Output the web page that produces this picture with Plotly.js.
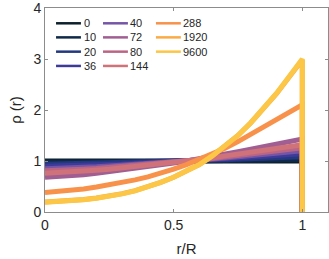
<!DOCTYPE html>
<html>
<head>
<meta charset="utf-8">
<script src="https://cdn.plot.ly/plotly-3.0.1.min.js"></script>
<style>html,body{margin:0;padding:0;background:#fff;}#chart{width:329px;height:259px;}</style>
</head>
<body>
<div id="chart"></div>
<script>
// r/R sample points (last point = wall drop at r/R = 1)
const r = [0, 0.05, 0.1, 0.15, 0.2, 0.25, 0.3, 0.35, 0.4, 0.45, 0.5, 0.55, 0.6, 0.65, 0.7, 0.75, 0.8, 0.85, 0.9, 0.95, 1.0, 1.0];
const labels = ["0", "10", "20", "36", "40", "72", "80", "144", "288", "1920", "9600"];
const colors = ["#0c1f2c", "#0f2a48", "#22387f", "#3d3a9a", "#7556a6", "#a05e92", "#bb6585", "#d0727a", "#f8914a", "#fbaa44", "#fcc646"];
const rho_0    = [1, 1, 1, 1, 1, 1, 1, 1, 1, 1, 1, 1, 1, 1, 1, 1, 1, 1, 1, 1, 1, 0];
const rho_10   = [0.975, 0.975, 0.975, 0.98, 0.98, 0.985, 0.985, 0.99, 0.99, 0.995, 0.995, 1.0, 1.0, 1.005, 1.01, 1.015, 1.02, 1.02, 1.025, 1.03, 1.035, 0];
const rho_20   = [0.935, 0.94, 0.94, 0.945, 0.95, 0.96, 0.965, 0.97, 0.98, 0.985, 0.99, 1.0, 1.01, 1.015, 1.025, 1.035, 1.045, 1.055, 1.065, 1.075, 1.085, 0];
const rho_36   = [0.895, 0.90, 0.905, 0.91, 0.92, 0.93, 0.94, 0.955, 0.965, 0.975, 0.985, 1.0, 1.015, 1.025, 1.045, 1.06, 1.075, 1.09, 1.11, 1.125, 1.14, 0];
const rho_40   = [0.85, 0.855, 0.865, 0.875, 0.885, 0.90, 0.915, 0.935, 0.95, 0.965, 0.98, 1.0, 1.02, 1.04, 1.06, 1.085, 1.11, 1.13, 1.155, 1.18, 1.20, 0];
const rho_72   = [0.68, 0.69, 0.71, 0.73, 0.76, 0.79, 0.82, 0.86, 0.89, 0.93, 0.96, 1.0, 1.04, 1.08, 1.13, 1.18, 1.23, 1.28, 1.33, 1.38, 1.43, 0];
const rho_80   = [0.81, 0.815, 0.825, 0.84, 0.855, 0.875, 0.89, 0.915, 0.935, 0.96, 0.975, 1.0, 1.025, 1.05, 1.08, 1.11, 1.14, 1.17, 1.20, 1.23, 1.26, 0];
const rho_144  = [0.76, 0.77, 0.78, 0.80, 0.82, 0.84, 0.865, 0.895, 0.92, 0.95, 0.97, 1.0, 1.03, 1.06, 1.10, 1.135, 1.17, 1.21, 1.25, 1.285, 1.32, 0];
const rho_288  = [0.38, 0.40, 0.42, 0.45, 0.49, 0.53, 0.575, 0.63, 0.69, 0.76, 0.84, 0.93, 1.03, 1.13, 1.25, 1.38, 1.52, 1.66, 1.81, 1.96, 2.10, 0];
const rho_1920 = [0.195, 0.205, 0.22, 0.245, 0.275, 0.315, 0.36, 0.42, 0.49, 0.58, 0.68, 0.795, 0.93, 1.10, 1.29, 1.50, 1.75, 2.02, 2.32, 2.65, 2.98, 0];
const rho_9600 = [0.19, 0.20, 0.215, 0.24, 0.27, 0.31, 0.355, 0.415, 0.49, 0.58, 0.68, 0.795, 0.93, 1.10, 1.29, 1.50, 1.75, 2.03, 2.33, 2.66, 3.00, 0];
const series = [rho_0, rho_10, rho_20, rho_36, rho_40, rho_72, rho_80, rho_144, rho_288, rho_1920, rho_9600];

const FONT = "Liberation Sans, Arial, sans-serif";
const traces = series.map((y, i) => ({
  x: r, y: y, type: "scatter", mode: "lines", name: labels[i],
  line: {color: colors[i], width: 5}, showlegend: false, hoverinfo: "skip"
}));

// legend built as layout shapes + annotations (3 columns, column-major)
const shapes = [], annotations = [];
const colX = [0.039, 0.205, 0.392];
const rowY = [0.925, 0.856, 0.786, 0.716];
const lineLen = 0.088;
labels.forEach((lab, i) => {
  const c = Math.floor(i / 4), rw = i % 4;
  shapes.push({type: "line", xref: "paper", yref: "paper",
    x0: colX[c], x1: colX[c] + lineLen, y0: rowY[rw], y1: rowY[rw],
    line: {color: colors[i], width: 2.5}});
  annotations.push({xref: "paper", yref: "paper", x: colX[c] + lineLen + 0.002, y: rowY[rw],
    xanchor: "left", yanchor: "middle", text: lab, showarrow: false,
    font: {family: FONT, size: 11, color: "#262626"}});
});

const axisCommon = {
  showgrid: false, zeroline: false, showline: true, mirror: "ticks",
  linecolor: "#8c8c8c", linewidth: 1, ticks: "inside", ticklen: 3, tickcolor: "#8c8c8c",
  ticklabeloverflow: "allow",
  tickfont: {family: FONT, size: 14, color: "#262626"}
};
const layout = {
  width: 329, height: 259,
  margin: {l: 45, r: 1, t: 8, b: 47},
  paper_bgcolor: "#fff", plot_bgcolor: "#fff",
  showlegend: false,
  xaxis: Object.assign({}, axisCommon, {range: [0, 1.1], tickvals: [0, 0.5, 1], ticktext: ["0", "0.5", "1"],
    title: {text: "r/R", font: {family: FONT, size: 15, color: "#262626"}, standoff: 11}}),
  yaxis: Object.assign({}, axisCommon, {range: [0, 4], tickvals: [0, 1, 2, 3, 4],
    title: {text: "ρ (r)", font: {family: FONT, size: 15, color: "#262626"}, standoff: 8}}),
  shapes: shapes, annotations: annotations
};
Plotly.newPlot("chart", traces, layout, {staticPlot: true, displayModeBar: false});
</script>
</body>
</html>
